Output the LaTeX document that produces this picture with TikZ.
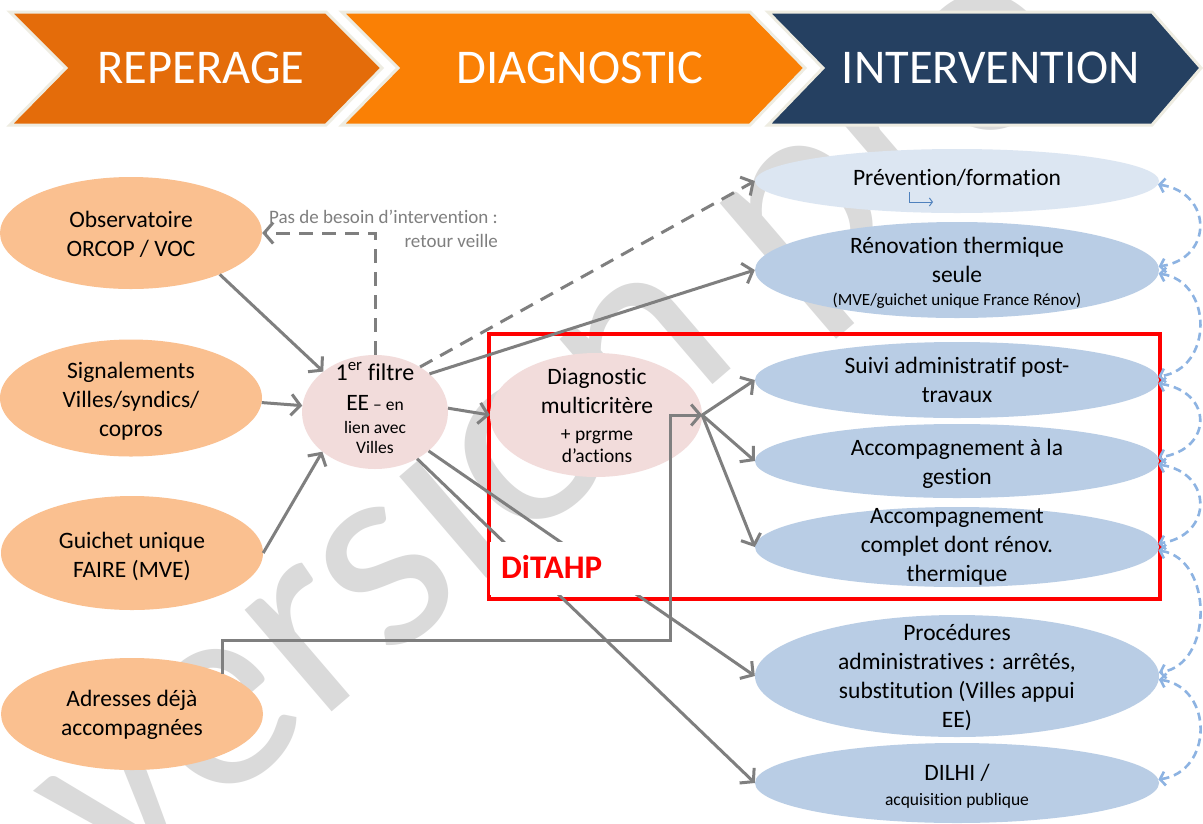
\documentclass[tikz,border=0pt]{standalone}
\usepackage{fontspec}
\setmainfont{Carlito}[Ligatures=NoCommon]
\usetikzlibrary{shapes.geometric,arrows.meta}
\definecolor{chevA}{HTML}{E46C0A}
\definecolor{chevB}{HTML}{FA8005}
\definecolor{chevC}{HTML}{254061}
\definecolor{chevEdge}{HTML}{EEECE1}
\definecolor{orangeE}{HTML}{FAC090}
\definecolor{pinkE}{HTML}{F2DCDB}
\definecolor{blueE}{HTML}{B9CDE5}
\definecolor{blueL}{HTML}{DCE6F2}
\definecolor{arrowG}{HTML}{7F7F7F}
\definecolor{dashB}{HTML}{8DB3E2}
\definecolor{iconB}{HTML}{4F81BD}
\definecolor{wmark}{HTML}{DADADA}
\definecolor{frameR}{HTML}{FF0000}
\begin{document}
\begin{tikzpicture}[x=1pt,y=-1pt,
  ell/.style={ellipse, inner sep=0pt, draw=none},
  oell/.style={ell, fill=orangeE, minimum width=262},
  pell/.style={ell, fill=pinkE},
  bell/.style={ell, fill=blueE, minimum width=404},
  txt/.style={align=center, anchor=base, inner sep=0pt, font=\fontsize{23.5}{29}\selectfont},
  smalltxt/.style={txt, font=\fontsize{17.5}{21}\selectfont},
  garrow/.style={draw=arrowG, line width=3pt, -{Straight Barb[length=9pt,width=21pt]}},
  gdash/.style={garrow, dash pattern=on 14pt off 9pt},
  barc/.style={draw=dashB, line width=2.6pt, dash pattern=on 8pt off 5pt,
     {Straight Barb[length=5pt,width=14pt]}-{Straight Barb[length=5pt,width=14pt]}},
  chev/.style={draw=chevEdge, line width=3pt, line join=miter},
  chevtxt/.style={text=white, anchor=base, inner sep=0pt, font=\fontsize{48.5}{58}\selectfont},
  wm/.style={text=wmark, inner sep=0pt, font=\fontsize{280}{300}\selectfont}
]
\useasboundingbox (0,0) rectangle (1203,823);
\fill[white] (0,0) rectangle (1203,823);

% watermark
\node[wm, rotate=40.6, anchor=base west] (wmk) at (118,895) {version pro};

% chevrons
\draw[chev, fill=chevA] (10,12) -- (326,12) -- (382,68) -- (326,125) -- (10,125) -- (66,68) -- cycle;
\draw[chev, fill=chevB] (342,12) -- (750,12) -- (805,68) -- (750,125) -- (342,125) -- (398,68) -- cycle;
\draw[chev, fill=chevC] (768,12) -- (1152,12) -- (1201,68) -- (1152,125) -- (768,125) -- (823,68) -- cycle;
\node[chevtxt] (h1) at (201,83) {REPERAGE};
\node[chevtxt] (h2) at (580,83) {DIAGNOSTIC};
\node[chevtxt] (h3) at (991,83) {INTERVENTION};

% red frame
\node[draw=frameR, line width=4pt, minimum width=671, minimum height=265, anchor=north west, inner sep=0pt] (frame) at (487,332) {};

% left ellipses
\node[oell, minimum height=112] (obs) at (131,233) {};
\node[oell, minimum height=117] (sig) at (131,398) {};
\node[oell, minimum height=114] (gui) at (132,553) {};
\node[oell, minimum height=112] (adr) at (132,714) {};
\node[txt] (obs-t) at (131,256) {Observatoire\\ORCOP / VOC};
\node[txt] (sig-t) at (131,436) {Signalements\\Villes/syndics/\\copros};
\node[txt] (gui-t) at (132,577) {Guichet unique\\FAIRE (MVE)};
\node[txt] (adr-t) at (132,735) {Adresses déjà\\accompagnées};

% pink ellipses
\node[pell, minimum width=146, minimum height=114] (filt) at (375,412) {};
\node[pell, minimum width=212, minimum height=124] (diag) at (596,415) {};
\node[smalltxt] (filt-t) at (375,453) {{\fontsize{24}{29}\selectfont 1\textsuperscript{er} filtre}\\[9pt]{\fontsize{23.5}{29}\selectfont EE} – en\\[2pt]lien avec\\[-1pt]Villes};
\node[txt, font=\fontsize{19.5}{23}\selectfont] (diag-t) at (597,462) {{\fontsize{23.5}{29}\selectfont Diagnostic}\\[6pt]{\fontsize{23.5}{29}\selectfont multicritère}\\[4pt]+ prgrme\\[-1pt]d’actions};

% right ellipses
\node[ell, fill=blueL, minimum width=404, minimum height=64] (prev) at (957,181) {};
\node[bell, minimum height=96] (ren) at (957,270) {};
\node[bell, minimum height=76] (suivi) at (957,380) {};
\node[bell, minimum height=74] (gest) at (957,461) {};
\node[bell, minimum height=80] (compl) at (957,547) {};
\node[bell, minimum height=122] (proc) at (957,676) {};
\node[bell, minimum height=80] (dilhi) at (957,783) {};
\node[txt] (prev-t) at (957,185) {Prévention/formation};
\draw[iconB, line width=1pt, -{Straight Barb[length=3pt,width=8pt]}] (909,192) |- (933,202);
\node[txt] (ren-t) at (957,305) {Rénovation thermique\\seule\\[-6pt]{\fontsize{17}{21}\selectfont (MVE/guichet unique France Rénov)}};
\node[txt] (suivi-t) at (957,402) {Suivi administratif post-\\travaux};
\node[txt] (gest-t) at (957,484) {Accompagnement à la\\gestion};
\node[txt] (compl-t) at (957,581) {Accompagnement\\complet dont rénov.\\thermique};
\node[txt] (proc-t) at (957,727) {Procédures\\administratives : arrêtés,\\substitution (Villes appui\\EE)};
\node[txt] (dilhi-t) at (957,805) {DILHI /\\[-4pt]{\fontsize{17.5}{21}\selectfont acquisition publique}};

% label
\node[align=right, anchor=base east, inner sep=0pt, text=arrowG, font=\fontsize{19}{24}\selectfont] (note) at (498,247) {Pas de besoin d’intervention :\\retour veille};

% gray connectors
\draw[garrow] (obs.-25) -- (filt.142);
\draw[garrow] (sig.-2) -- (filt.175);
\draw[garrow] (gui.east) -- (filt.217);
\coordinate (adrK) at (670,640);
\draw[garrow] (adr.24) |- (adrK) |- (diag.east);
\draw[gdash] (filt.north) |- (obs.east);
\draw[gdash] (filt.45) -- (prev.west);
\draw[garrow] (filt.35) -- (ren.west);
\draw[garrow] (filt.3) -- (diag.west);
\draw[garrow] (diag.east) -- (suivi.west);
\draw[garrow] (diag.east) -- (gest.west);
\draw[garrow] (diag.east) -- (compl.west);
\draw[garrow] (filt.-36) -- (proc.west);
\draw[garrow] (filt.-48) -- (dilhi.west);

% blue dashed arcs
\foreach \a/\b in {prev/ren, ren/suivi, suivi/gest, gest/compl, compl/proc, proc/dilhi}
  \draw[barc] (\a.-1.5) .. controls +(55,8) and +(55,-8) .. (\b.1.5);

% DiTAHP label on its white box
\fill[white] (490,542) rectangle (657,595);
\node[anchor=base west, inner sep=0pt, text=frameR, font=\fontsize{33}{40}\selectfont\bfseries] (ditahp) at (501,578) {DiTAHP};
\end{tikzpicture}
\end{document}
